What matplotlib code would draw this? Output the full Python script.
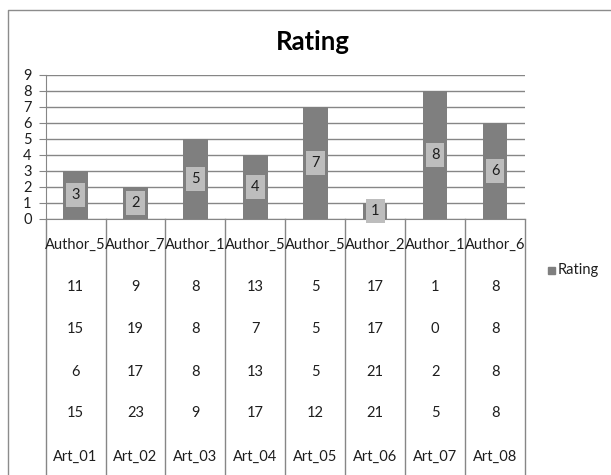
import matplotlib.pyplot as plt
from matplotlib.lines import Line2D
import numpy as np

plt.rcParams['font.family'] = ['Lato', 'DejaVu Sans']

articles = ["Art_01", "Art_02", "Art_03", "Art_04", "Art_05", "Art_06", "Art_07", "Art_08"]
authors = ["Author_5", "Author_7", "Author_1", "Author_5", "Author_5", "Author_2", "Author_1", "Author_6"]
row_a = [11, 9, 8, 13, 5, 17, 1, 8]
row_b = [15, 19, 8, 7, 5, 17, 0, 8]
row_c = [6, 17, 8, 13, 5, 21, 2, 8]
row_d = [15, 23, 9, 17, 12, 21, 5, 8]
rating = [3, 2, 5, 4, 7, 1, 8, 6]

W, H = 611, 475
fig = plt.figure(figsize=(W / 100, H / 100), dpi=100)
ax = fig.add_axes([45.6 / W, 1 - 219 / H, (525 - 45.6) / W, 144 / H])

grey = "#868686"
txt = "#1e1e1e"
fs = 10.5
x = np.arange(len(rating)) + 0.5
ax.bar(x, rating, width=0.41, color="#7f7f7f", zorder=3)

ax.set_xlim(0, len(rating))
ax.set_ylim(0, 9)
ax.set_yticks(range(10))
ax.yaxis.grid(True, color=grey, lw=1)
ax.set_axisbelow(True)
ax.set_xticks([])
for s in ["top", "right"]:
    ax.spines[s].set_visible(False)
for s in ["left", "bottom"]:
    ax.spines[s].set_color(grey)
ax.tick_params(axis="y", length=5, color=grey, labelsize=fs, labelcolor=txt, pad=5)

# value labels in the middle of each bar
for xi, v in zip(x, rating):
    ax.text(xi, v / 2, str(v), ha="center", va="center", fontsize=fs, color=txt, zorder=4,
            bbox=dict(boxstyle="square,pad=0.35", fc="#bdbdbd", ec="none"))

# category table under the axis
px = 16.0  # pixels per unit on y
for b in range(len(rating) + 1):
    ax.plot([b, b], [0, -(H - 219) / px], color=grey, lw=1, clip_on=False)

rows = [(245, authors), (287, row_a), (329, row_b), (372, row_c), (413, row_d), (457, articles)]
for ypix, vals in rows:
    for xi, v in zip(x, vals):
        ax.text(xi, -(ypix - 219) / px, str(v), ha="center", va="center", fontsize=fs,
                color=txt, clip_on=False)

fig.text(313 / W, 1 - 42 / H, "Rating", ha="center", va="center", fontsize=18.5, fontweight="bold")

# legend
fig.patches.append(plt.Rectangle((548 / W, 1 - 274 / H), 7 / W, 7 / H, color="#7f7f7f",
                                 transform=fig.transFigure))
fig.text(558 / W, 1 - 270 / H, "Rating", ha="left", va="center", fontsize=fs, color=txt)

# chart frame
fig.lines.append(Line2D([7.8 / W, 7.8 / W, 1], [0, 1 - 10 / H, 1 - 10 / H], color="#8c8c8c", lw=1,
                        transform=fig.transFigure))

fig.savefig("out.png", dpi=100, facecolor="white")
